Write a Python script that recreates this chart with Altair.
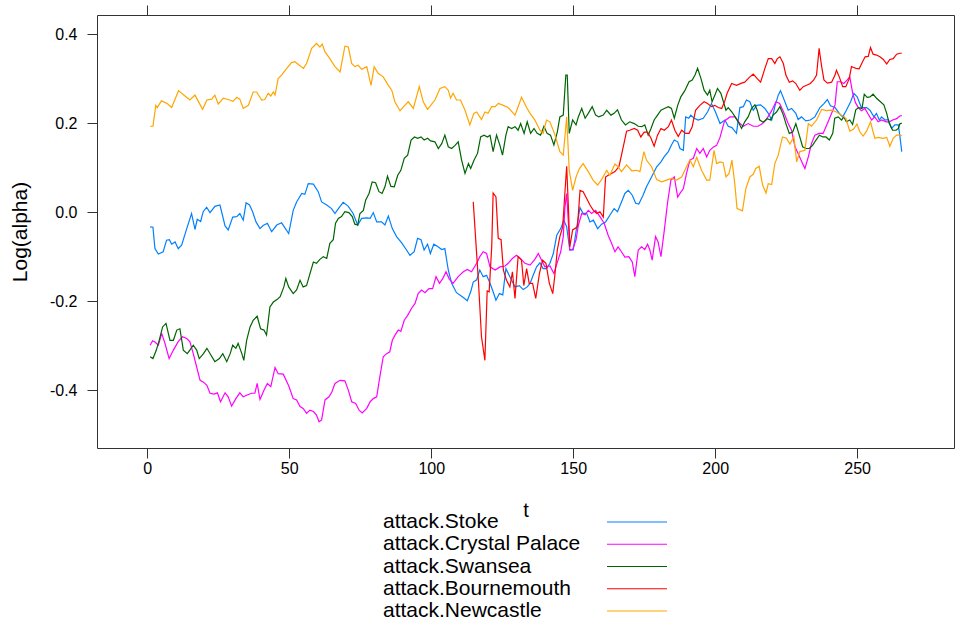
import altair as alt
import pandas as pd

# Series names (legend order) and their line colours
SERIES = ["attack.Stoke", "attack.Crystal Palace", "attack.Swansea",
          "attack.Bournemouth", "attack.Newcastle"]
COLORS = ["#0080ff", "#ff00ff", "#006400", "#ff0000", "#ffa500"]

X_TICKS = [0, 50, 100, 150, 200, 250]
Y_TICKS = [-0.4, -0.2, 0.0, 0.2, 0.4]

# ---- attack.Stoke ----
stoke_t = [1, 2, 2.7, 3.9, 5.6, 6.8, 7.8, 8.6, 9.8, 10.9, 12.1, 13.9, 15.6, 16.8, 17.6, 18.8, 19.7,
           20.9, 22.1, 23.8, 25.6, 27.4, 28.5, 30.1, 31.5, 32.6, 33.8, 34.8, 36, 37.1, 38.3, 39.7,
           40.8, 42.3, 43.8, 45.6, 47.3, 49.8, 51.4, 52.6, 54.4, 55.5, 56.7, 58.5, 60.2, 61.4, 63.2,
           64.9, 66.1, 67.3, 69, 70.8, 72.5, 74.1, 75.5, 77.3, 78.5, 79.6, 80.8, 82.5, 83.7, 84.9,
           86.3, 87.8, 89.6, 91.3, 92.5, 94, 95.2, 96.4, 97.5, 98.7, 99.7, 100.9, 102.4, 103.7, 104.8,
           106, 107.2, 108.9, 111.3, 112.7, 113.9, 114.8, 116, 117.1, 118.3, 119.5, 120.7, 121.8,
           122.8, 124, 125.2, 126.3, 127.7, 129.5, 131, 132.4, 133.8, 134.8, 135.9, 137.1, 138.3,
           139.4, 140.6, 141.8, 143, 144.2, 145.6, 146.7, 147.7, 148.8, 150, 151.2, 152.4, 153.5,
           154.7, 155.9, 157.1, 158.6, 160, 161.4, 162.9, 164.4, 165.6, 167, 168.2, 169.4, 170.8,
           172, 173.1, 174.6, 175.8, 177.6, 179.4, 180.9, 182, 183.5, 184.6, 185.6, 186.8, 187.6,
           188.8, 189.6, 190.7, 191.4, 192.6, 194, 195.8, 197.3, 198.7, 200.1, 201.7, 203.4, 204.6,
           205.9, 207.5, 208.7, 209.9, 211, 212.2, 213.4, 214.6, 216, 217.5, 218.7, 219.9, 221,
           222.2, 223, 224.3, 225.7, 226.9, 228.4, 229.2, 230.4, 231.9, 233.5, 235.1, 236.9, 238.3,
           239.5, 240.6, 242.2, 243.7, 244.9, 246.2, 247.7, 248.8, 250, 251.5, 253.3, 254.5, 255.9,
           256.8, 257.8, 258.6, 259.8, 261, 262.1, 263.3, 264.5, 265, 265.7]
stoke_v = [-0.033, -0.034, -0.082, -0.094, -0.089, -0.063, -0.062, -0.072, -0.067, -0.082, -0.074,
           -0.037, -0.003, -0.039, -0.016, -0.021, 0.001, 0.011, -0.001, 0.013, 0.016, -0.031, -0.040,
           -0.011, -0.010, -0.003, -0.018, 0.021, 0.016, 0.001, -0.022, -0.037, -0.030, -0.025,
           -0.044, -0.029, -0.024, -0.048, 0.004, 0.023, 0.042, 0.040, 0.064, 0.063, 0.046, 0.023,
           0.016, 0.008, -0.003, 0.008, 0.022, 0.013, -0.003, -0.029, -0.014, -0.013, -0.014, -0.001,
           -0.022, -0.022, -0.029, -0.009, -0.037, -0.055, -0.069, -0.085, -0.097, -0.089, -0.059,
           -0.062, -0.085, -0.072, -0.093, -0.072, -0.078, -0.084, -0.082, -0.130, -0.160, -0.181,
           -0.192, -0.199, -0.179, -0.157, -0.152, -0.130, -0.145, -0.142, -0.160, -0.179, -0.198,
           -0.183, -0.186, -0.127, -0.145, -0.168, -0.165, -0.174, -0.168, -0.160, -0.142, -0.123,
           -0.114, -0.127, -0.127, -0.115, -0.093, -0.052, -0.037, -0.018, -0.033, -0.085, -0.085,
           -0.035, 0.010, -0.003, -0.002, -0.022, -0.018, -0.037, -0.027, -0.022, -0.007, 0.008,
           0.001, 0.023, 0.042, 0.049, 0.038, 0.020, 0.018, 0.038, 0.057, 0.079, 0.102, 0.113, 0.124,
           0.136, 0.151, 0.162, 0.158, 0.143, 0.139, 0.214, 0.211, 0.218, 0.211, 0.207, 0.211, 0.225,
           0.244, 0.225, 0.199, 0.207, 0.193, 0.190, 0.177, 0.235, 0.237, 0.252, 0.248, 0.229, 0.240,
           0.241, 0.233, 0.222, 0.207, 0.237, 0.263, 0.273, 0.252, 0.229, 0.233, 0.222, 0.208, 0.214,
           0.205, 0.207, 0.214, 0.235, 0.244, 0.253, 0.239, 0.235, 0.222, 0.214, 0.229, 0.248, 0.267,
           0.259, 0.235, 0.235, 0.229, 0.214, 0.222, 0.207, 0.214, 0.207, 0.208, 0.188, 0.196, 0.196,
           0.173, 0.136]

# ---- attack.Crystal Palace ----
palace_t = [1, 1.9, 2.7, 3.9, 5.1, 6.2, 7.7, 9.2, 10.9, 12.4, 13.9, 15, 16.2, 17.4, 18.6, 19.8, 21,
            22.1, 23.5, 24.7, 25.8, 27.4, 28.5, 29.7, 31.2, 32.6, 33.8, 35.2, 36.7, 37.9, 38.7,
            39.7, 41.1, 42.3, 43.5, 45, 46.1, 47.9, 49.8, 51.4, 52.6, 53.8, 54.9, 56.1, 57.3, 58.5,
            59.6, 60.5, 61.4, 62.6, 64, 65, 66.1, 67.9, 69.6, 70.8, 72, 73.4, 74.6, 75.7, 77.3, 78.5,
            79.6, 80.8, 81.9, 83.1, 84.3, 85.4, 86.3, 87.2, 88.4, 89.3, 90.5, 91.7, 93.1, 94.3,
            95.4, 96.6, 97.8, 99.2, 100.5, 101.7, 102.9, 104.1, 105.2, 106.4, 107.7, 109.5, 111.3,
            112.7, 114.2, 116, 117.1, 118.3, 119.5, 120.7, 122.5, 124.2, 126, 127.1, 128.6, 130,
            131.4, 133, 134.8, 136.5, 137.7, 138.9, 140, 141.8, 143.2, 144.4, 145.6, 146.5, 147.1,
            147.7, 148.3, 148.8, 149.8, 151, 151.8, 153, 154.2, 155.3, 156.5, 157.9, 159.4, 160.9,
            162.3, 163.5, 164.7, 165.8, 167, 168.2, 169.6, 170.8, 171.7, 172.9, 174.1, 175.2, 176.2,
            177, 177.8, 179, 179.9, 180.9, 182.1, 183.2, 184.4, 185.6, 186.8, 187.6, 188.8, 189.9,
            191.1, 192.3, 193.5, 194.6, 195.8, 197, 198.1, 199.3, 200.5, 201.7, 203.3, 205.2, 207,
            208.7, 209.9, 211.6, 213.4, 215.1, 216.7, 218, 219.9, 221.4, 222.7, 224.1, 225.7, 226.9,
            228.1, 229.2, 230.8, 231.6, 232.8, 233.9, 235.1, 236.6, 238, 239.5, 241, 242.2, 243,
            244.1, 245.3, 246.5, 247.4, 248.4, 249.4, 250.4, 251.5, 252.7, 253.9, 255.1, 256.2,
            257.4, 258.6, 260.2, 261.3, 262.5, 263.9, 265, 265.7]
palace_v = [-0.299, -0.289, -0.292, -0.299, -0.273, -0.294, -0.329, -0.310, -0.291, -0.280, -0.284,
            -0.291, -0.318, -0.348, -0.378, -0.382, -0.389, -0.407, -0.409, -0.406, -0.426, -0.406,
            -0.415, -0.436, -0.419, -0.406, -0.415, -0.411, -0.407, -0.407, -0.385, -0.421, -0.400,
            -0.385, -0.392, -0.349, -0.363, -0.364, -0.390, -0.419, -0.422, -0.437, -0.441, -0.452,
            -0.445, -0.448, -0.456, -0.471, -0.467, -0.422, -0.415, -0.404, -0.385, -0.378, -0.379,
            -0.400, -0.426, -0.430, -0.445, -0.451, -0.441, -0.426, -0.419, -0.415, -0.370, -0.325,
            -0.318, -0.314, -0.288, -0.277, -0.265, -0.268, -0.243, -0.232, -0.216, -0.205, -0.183,
            -0.175, -0.181, -0.172, -0.172, -0.145, -0.160, -0.149, -0.134, -0.151, -0.160, -0.145,
            -0.134, -0.129, -0.134, -0.115, -0.100, -0.089, -0.093, -0.123, -0.130, -0.123, -0.121,
            -0.115, -0.104, -0.097, -0.104, -0.115, -0.119, -0.106, -0.093, -0.108, -0.123, -0.121,
            -0.138, -0.113, -0.089, -0.055, 0.012, 0.042, -0.025, -0.085, -0.084, -0.062, -0.030,
            -0.003, -0.006, 0.004, -0.003, 0.004, -0.010, -0.025, -0.052, -0.070, -0.089, -0.078,
            -0.089, -0.101, -0.100, -0.112, -0.145, -0.085, -0.078, -0.084, -0.072, -0.085, -0.108,
            -0.055, -0.067, -0.100, -0.040, 0.020, 0.072, 0.079, 0.034, 0.042, 0.053, 0.087, 0.117,
            0.121, 0.143, 0.132, 0.143, 0.124, 0.139, 0.146, 0.150, 0.168, 0.205, 0.214, 0.214, 0.199,
            0.193, 0.199, 0.193, 0.193, 0.199, 0.208, 0.228, 0.248, 0.244, 0.225, 0.199, 0.184, 0.147,
            0.132, 0.109, 0.098, 0.124, 0.154, 0.173, 0.177, 0.177, 0.199, 0.222, 0.241, 0.293, 0.293,
            0.289, 0.297, 0.304, 0.268, 0.246, 0.235, 0.228, 0.233, 0.220, 0.207, 0.214, 0.203, 0.207,
            0.203, 0.203, 0.207, 0.210, 0.216, 0.217]

# ---- attack.Swansea ----
swansea_t = [1, 2, 3.2, 4.2, 5.4, 6.6, 8, 9.2, 10.4, 11.5, 12.7, 14.1, 15, 16.2, 17.4, 18.3, 19.8,
             21, 22.4, 23.8, 25.4, 26.6, 28, 29.2, 30.1, 31.2, 32, 33.3, 34, 35, 36.2, 37.3, 38.7,
             39.9, 41.1, 42, 43.2, 44.4, 45.8, 46.8, 48.1, 48.8, 49.8, 51.4, 52.6, 53.8, 54.9, 56.1,
             57.3, 58.5, 59.6, 60.8, 62, 63.2, 64.3, 65.5, 66.3, 67.3, 68.4, 69.6, 71, 72.2, 73.1,
             74.1, 74.9, 76.1, 76.9, 78.1, 79.2, 80.4, 81.6, 82.7, 83.7, 84.6, 85.8, 87, 88.2, 89.3,
             90.5, 91.7, 92.9, 94.1, 95.2, 96.4, 97.5, 98.7, 99.8, 101.3, 102.5, 103.7, 104.8, 106,
             107.2, 108.4, 109.5, 110.7, 111.9, 113.1, 113.9, 115.1, 116.3, 117.4, 118.6, 119.8,
             120.7, 121.8, 123, 124.2, 125.1, 126.3, 127.1, 128.3, 129.5, 130.6, 131.5, 132.7, 133.8,
             135, 136.2, 137.3, 138.5, 139.7, 140.8, 142, 143.2, 144.4, 145.3, 146.5, 147.4, 147.9,
             148.6, 149.8, 151, 151.8, 153, 154.2, 155.3, 156.7, 157.9, 159, 160.6, 161.8, 163.3,
             164.4, 165.6, 167, 168.4, 169.9, 171.5, 172.9, 174.1, 175.2, 176.4, 177.4, 178.5, 179.7,
             180.9, 182.1, 183.5, 184.6, 185.6, 186.8, 187.9, 189.3, 190.8, 191.9, 192.9, 193.8, 195,
             196.1, 197.3, 198.1, 198.9, 199.9, 200.8, 202, 203.8, 204.6, 205.9, 207, 208.1, 209.3,
             210.4, 211.6, 212.8, 214, 214.8, 215.7, 216.9, 218.3, 219.5, 220.4, 221.6, 222.8, 224,
             224.9, 226.1, 227.3, 228.4, 229.6, 230.8, 232, 233.1, 234.3, 235.5, 236.7, 237.9, 239,
             240.2, 241.4, 242.1, 243.3, 244.5, 245.3, 246.2, 247.4, 248.4, 249.5, 250.5, 251.7,
             252.5, 253.5, 254.5, 255.6, 256.8, 258.2, 259.4, 260.4, 261.3, 262.5, 263.7, 264.5, 265,
             265.7]
swansea_v = [-0.325, -0.329, -0.310, -0.288, -0.258, -0.250, -0.288, -0.288, -0.265, -0.262, -0.310,
             -0.318, -0.310, -0.299, -0.310, -0.329, -0.318, -0.306, -0.321, -0.336, -0.329, -0.318,
             -0.336, -0.318, -0.299, -0.306, -0.295, -0.318, -0.333, -0.288, -0.258, -0.243, -0.234,
             -0.262, -0.265, -0.276, -0.213, -0.202, -0.196, -0.190, -0.168, -0.149, -0.168, -0.183,
             -0.175, -0.153, -0.168, -0.165, -0.138, -0.112, -0.115, -0.106, -0.100, -0.104, -0.070,
             -0.062, -0.025, -0.014, -0.010, 0.001, -0.001, -0.010, -0.027, -0.029, -0.003, 0.004,
             0.027, 0.042, 0.068, 0.066, 0.046, 0.042, 0.057, 0.081, 0.058, 0.057, 0.083, 0.094,
             0.121, 0.128, 0.162, 0.169, 0.166, 0.169, 0.162, 0.166, 0.160, 0.158, 0.143, 0.154,
             0.173, 0.147, 0.143, 0.150, 0.158, 0.117, 0.087, 0.109, 0.098, 0.117, 0.132, 0.169,
             0.173, 0.169, 0.173, 0.136, 0.173, 0.150, 0.128, 0.173, 0.192, 0.188, 0.192, 0.184,
             0.199, 0.177, 0.203, 0.177, 0.188, 0.177, 0.173, 0.193, 0.177, 0.173, 0.151, 0.180,
             0.214, 0.218, 0.308, 0.308, 0.177, 0.207, 0.196, 0.214, 0.233, 0.211, 0.222, 0.237,
             0.218, 0.214, 0.218, 0.229, 0.218, 0.222, 0.230, 0.207, 0.196, 0.203, 0.199, 0.193,
             0.192, 0.196, 0.173, 0.188, 0.207, 0.218, 0.229, 0.233, 0.237, 0.233, 0.211, 0.240,
             0.259, 0.273, 0.293, 0.297, 0.308, 0.323, 0.300, 0.274, 0.263, 0.274, 0.248, 0.263,
             0.278, 0.267, 0.229, 0.235, 0.225, 0.214, 0.203, 0.188, 0.203, 0.214, 0.233, 0.241,
             0.229, 0.207, 0.202, 0.210, 0.207, 0.218, 0.225, 0.237, 0.218, 0.199, 0.177, 0.180,
             0.199, 0.173, 0.147, 0.143, 0.143, 0.150, 0.162, 0.173, 0.169, 0.169, 0.162, 0.177,
             0.211, 0.214, 0.207, 0.214, 0.203, 0.207, 0.197, 0.230, 0.235, 0.233, 0.265, 0.258,
             0.259, 0.265, 0.256, 0.248, 0.241, 0.222, 0.199, 0.184, 0.184, 0.188, 0.198, 0.200]

# ---- attack.Bournemouth (series starts later) ----
bournemouth_t = [114.8, 116.6, 117.7, 118.9, 119.7, 120.4, 121.3, 121.8, 122.8, 123.6, 124.6,
                 125.4, 126.5, 127.7, 128.6, 129.5, 130.6, 131.8, 132.6, 133.6, 134.5, 135.7,
                 136.8, 138.1, 139.2, 140.4, 141.6, 142.8, 143.6, 144.4, 145.3, 146.3, 147.1,
                 147.7, 148.3, 148.8, 149.8, 151.5, 152.4, 153.5, 154.7, 155.9, 157.1, 158.3,
                 159.4, 160.6, 161.4, 162.3, 163.5, 164.7, 166.1, 167, 168, 168.8, 169.9, 171.5,
                 172.7, 173.8, 175, 176.2, 177.4, 178.5, 179.7, 180.9, 182.1, 183.5, 184.6, 185.8,
                 187, 188.2, 189.6, 190.8, 191.9, 193.1, 194.6, 196.1, 197.3, 198.7, 199.9, 201.1,
                 202.3, 203.4, 204.2, 205.8, 207.5, 209.3, 210.4, 212.2, 213.4, 214.8, 216, 217.5,
                 218.7, 219.9, 221, 221.9, 222.8, 224, 224.9, 226.1, 227.3, 228.4, 229.8, 231,
                 232.2, 233.5, 234.7, 235.7, 236.6, 237.5, 238.3, 239.5, 241, 242.2, 242.7, 243.7,
                 244.9, 246, 247.2, 248, 248.8, 249.6, 250.7, 251.9, 252.8, 253.9, 254.7, 255.6,
                 256.8, 258, 259.2, 260.4, 261.5, 262.7, 263.9, 265, 265.7]
bournemouth_v = [0.023, -0.153, -0.280, -0.333, -0.177, -0.179, -0.078, 0.043, 0.034, -0.059,
                 -0.062, -0.130, -0.153, -0.168, -0.134, -0.194, -0.100, -0.108, -0.165, -0.127,
                 -0.160, -0.160, -0.194, -0.138, -0.108, -0.115, -0.160, -0.183, -0.138, -0.085,
                 -0.055, -0.033, 0.046, 0.103, 0.012, -0.078, -0.040, -0.033, 0.049, 0.046, 0.031,
                 0.016, 0.004, -0.003, 0.001, -0.011, 0.079, 0.083, 0.087, 0.091, 0.102, 0.128,
                 0.158, 0.182, 0.184, 0.188, 0.184, 0.169, 0.180, 0.180, 0.166, 0.148, 0.173, 0.188,
                 0.184, 0.192, 0.207, 0.184, 0.170, 0.184, 0.177, 0.177, 0.192, 0.229, 0.240, 0.248,
                 0.244, 0.237, 0.240, 0.235, 0.233, 0.250, 0.267, 0.289, 0.285, 0.290, 0.292, 0.304,
                 0.310, 0.300, 0.292, 0.323, 0.345, 0.345, 0.334, 0.345, 0.349, 0.334, 0.308, 0.292,
                 0.295, 0.289, 0.274, 0.282, 0.285, 0.289, 0.297, 0.308, 0.368, 0.327, 0.297, 0.290,
                 0.292, 0.308, 0.319, 0.304, 0.282, 0.282, 0.300, 0.327, 0.325, 0.323, 0.322, 0.338,
                 0.349, 0.350, 0.370, 0.355, 0.353, 0.349, 0.343, 0.333, 0.343, 0.345, 0.355, 0.357,
                 0.357]

# ---- attack.Newcastle ----
newcastle_t = [1, 2, 3, 3.5, 5, 7, 8.6, 11, 13.3, 15, 16.8, 19.5, 21, 22.7, 23.8, 25, 26.8, 29,
               30.2, 31.5, 32.6, 33.8, 35.6, 37.3, 38.5, 40.3, 41.4, 42.6, 43.5, 44.4, 45, 46.1,
               47.3, 48.5, 50.8, 52, 55, 56.1, 57.9, 59.6, 60.8, 61.6, 62.6, 64.3, 66.1, 67.9, 69.6,
               70.8, 72, 73.1, 74.3, 75.5, 77.3, 78.8, 79.9, 81.3, 83.1, 84.9, 86.1, 87.2, 89, 90.7,
               91.9, 93.7, 95.8, 97.2, 98.7, 101.3, 103.1, 104.8, 106, 106.8, 107.7, 108.9, 110.3,
               111.9, 113.6, 115, 116, 117.7, 118.9, 120, 121.3, 122.5, 123.6, 125.4, 127.1, 129.5,
               130.6, 131.8, 133.6, 134.8, 136.5, 138.3, 139.4, 140.6, 141.8, 143.6, 145.3, 146.5,
               147.7, 148.6, 149.8, 151, 152.2, 153.5, 155.3, 157, 158.6, 160, 161.8, 162.9, 164.7,
               165.8, 167, 168.8, 170.6, 172.3, 173.5, 174.9, 175.8, 177.6, 179.4, 181.1, 182.9,
               184.6, 186.4, 188.2, 189.9, 191.1, 192.3, 193.5, 195.2, 197, 198.1, 199.6, 200.5,
               201.7, 202.8, 203.8, 204.9, 205.9, 206.9, 207.7, 209.6, 210.8, 212.2, 213.4, 214.3,
               215.5, 216.7, 217.9, 218.7, 219.9, 221, 222.2, 223.7, 225.1, 226.3, 227.7, 228.7,
               229.8, 231.6, 232.8, 233.9, 235.7, 237.5, 239.2, 241, 242.7, 244.5, 246, 247.4, 248.7,
               249.9, 251, 252.1, 253.3, 254.7, 256.2, 257.4, 259.2, 260.4, 261.5, 262.7, 263.9, 265,
               265.7]
newcastle_v = [0.193, 0.193, 0.240, 0.235, 0.250, 0.244, 0.235, 0.273, 0.261, 0.252, 0.263, 0.231,
               0.252, 0.254, 0.263, 0.243, 0.256, 0.252, 0.249, 0.258, 0.254, 0.233, 0.240, 0.270,
               0.270, 0.252, 0.253, 0.267, 0.261, 0.270, 0.263, 0.300, 0.308, 0.318, 0.336, 0.338,
               0.323, 0.334, 0.368, 0.379, 0.371, 0.378, 0.360, 0.345, 0.327, 0.315, 0.373, 0.371,
               0.334, 0.327, 0.330, 0.321, 0.327, 0.285, 0.327, 0.312, 0.304, 0.285, 0.274, 0.248,
               0.228, 0.240, 0.248, 0.233, 0.282, 0.248, 0.231, 0.252, 0.278, 0.282, 0.274, 0.256,
               0.267, 0.252, 0.252, 0.229, 0.196, 0.222, 0.225, 0.208, 0.225, 0.222, 0.237, 0.237,
               0.244, 0.240, 0.235, 0.218, 0.237, 0.258, 0.235, 0.222, 0.207, 0.184, 0.177, 0.207,
               0.203, 0.173, 0.136, 0.128, 0.214, 0.094, 0.049, 0.079, 0.098, 0.109, 0.091, 0.072,
               0.061, 0.073, 0.094, 0.083, 0.108, 0.102, 0.091, 0.106, 0.093, 0.094, 0.091, 0.136,
               0.117, 0.102, 0.073, 0.068, 0.072, 0.076, 0.072, 0.079, 0.102, 0.117, 0.102, 0.123,
               0.094, 0.072, 0.072, 0.139, 0.109, 0.113, 0.111, 0.079, 0.087, 0.117, 0.064, 0.008,
               0.003, 0.053, 0.079, 0.085, 0.098, 0.103, 0.061, 0.043, 0.064, 0.062, 0.109, 0.128,
               0.169, 0.166, 0.153, 0.169, 0.113, 0.136, 0.139, 0.199, 0.193, 0.207, 0.231, 0.228,
               0.229, 0.225, 0.218, 0.211, 0.182, 0.186, 0.198, 0.180, 0.171, 0.182, 0.203, 0.166,
               0.168, 0.166, 0.168, 0.148, 0.166, 0.173, 0.173, 0.172]

SERIES_T = [stoke_t, palace_t, swansea_t, bournemouth_t, newcastle_t]
SERIES_V = [stoke_v, palace_v, swansea_v, bournemouth_v, newcastle_v]

frames = [pd.DataFrame({"t": ts, "alpha": vs, "series": name})
          for name, ts, vs in zip(SERIES, SERIES_T, SERIES_V)]
df = pd.concat(frames, ignore_index=True)

FONT = "Liberation Sans"
FRAME = "#333333"

x_scale = alt.Scale(domain=[-17.7, 284.1], nice=False, zero=False)
y_scale = alt.Scale(domain=[-0.530, 0.443], nice=False, zero=False)
color_scale = alt.Scale(domain=SERIES, range=COLORS)

x_axis = alt.Axis(values=X_TICKS, orient="bottom", tickSize=10, tickColor=FRAME, domain=False,
                  grid=False, labelFontSize=16, labelColor="black", labelPadding=2,
                  title="t", titleFontSize=20, titleFontWeight="normal", titleColor="black",
                  titlePadding=24)
y_axis = alt.Axis(values=Y_TICKS, orient="left", tickSize=10, tickColor=FRAME, domain=False,
                  grid=False, format=".1f", labelExpr="replace(datum.label, '\u2212', '-')",
                  labelFontSize=16, labelColor="black", labelPadding=10,
                  title="Log(alpha)", titleFontSize=21, titleFontWeight="normal",
                  titleColor="black", titlePadding=19)

lines = alt.Chart(df).mark_line(strokeWidth=1.2).encode(
    x=alt.X("t:Q", scale=x_scale, axis=x_axis),
    y=alt.Y("alpha:Q", scale=y_scale, axis=y_axis),
    color=alt.Color("series:N", scale=color_scale, legend=None),
    detail="series:N",
)

# Mirror ticks on the top and right edges of the panel box
top_ticks = alt.Chart(pd.DataFrame({"t": X_TICKS})).mark_tick(opacity=0).encode(
    x=alt.X("t:Q", scale=x_scale,
            axis=alt.Axis(orient="top", values=X_TICKS, labels=False, tickSize=10,
                          tickColor=FRAME, domain=False, grid=False, title=None)),
)
right_ticks = alt.Chart(pd.DataFrame({"alpha": Y_TICKS})).mark_tick(opacity=0).encode(
    y=alt.Y("alpha:Q", scale=y_scale,
            axis=alt.Axis(orient="right", values=Y_TICKS, labels=False, tickSize=10,
                          tickColor=FRAME, domain=False, grid=False, title=None)),
)

panel = alt.layer(lines, top_ticks, right_ticks)

# Key below the panel: label text on the left, line sample on the right
key_df = pd.DataFrame({"series": SERIES})
key_y = alt.Y("series:N", scale=alt.Scale(type="point", domain=SERIES, range=[507, 596],
                                          padding=0), axis=None)
key_text = alt.Chart(key_df).mark_text(align="left", baseline="middle", fontSize=21,
                                       font=FONT, color="black").encode(
    x=alt.value(286), y=key_y, text="series:N")
key_lines = alt.Chart(key_df).mark_rule(strokeWidth=1.2).encode(
    x=alt.value(510), x2=alt.value(570), y=key_y,
    color=alt.Color("series:N", scale=color_scale, legend=None))
key = alt.layer(key_text, key_lines)

chart = alt.layer(panel, key).resolve_scale(y="independent").properties(
    width=857, height=433,
    padding={"left": 97, "top": 15, "right": 1, "bottom": 180},
    autosize=alt.AutoSizeParams(type="none"),
    background="white",
).configure(font=FONT).configure_view(stroke=FRAME, strokeWidth=1)

chart.save("out.html", embed_options={"renderer": "svg", "actions": False})
